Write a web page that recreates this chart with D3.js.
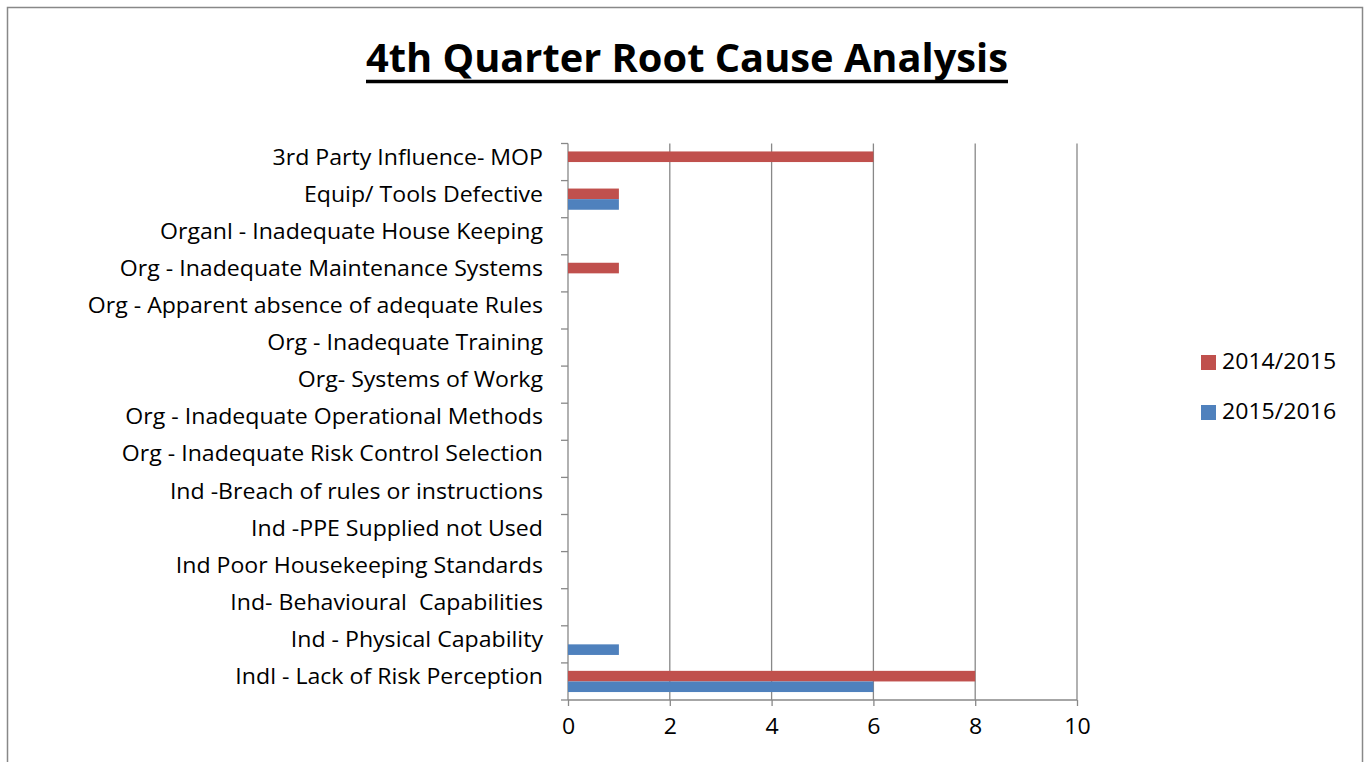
<!DOCTYPE html>
<html>
<head>
<meta charset="utf-8">
<script src="https://cdn.jsdelivr.net/npm/d3@7/dist/d3.min.js"></script>
<style>
  html, body { margin: 0; padding: 0; background: #fff; }
  svg { display: block; }
  text { font-family: "Open Sans", "Noto Sans", sans-serif; fill: #000; white-space: pre; }
</style>
</head>
<body>
<svg id="chart" width="1368" height="762"></svg>
<script>
// ---- data ----
const categories = [
  "3rd Party Influence- MOP",
  "Equip/ Tools Defective",
  "Organl - Inadequate House Keeping",
  "Org - Inadequate Maintenance Systems",
  "Org - Apparent absence of adequate Rules",
  "Org - Inadequate Training",
  "Org- Systems of Workg",
  "Org - Inadequate Operational Methods",
  "Org - Inadequate Risk Control Selection",
  "Ind -Breach of rules or instructions",
  "Ind -PPE Supplied not Used",
  "Ind Poor Housekeeping Standards",
  "Ind- Behavioural  Capabilities",
  "Ind - Physical Capability",
  "Indl - Lack of Risk Perception"
];
const seriesNames = ["2014/2015", "2015/2016"];
const values2014 = [6, 1, 0, 1, 0, 0, 0, 0, 0, 0, 0, 0, 0, 0, 8];
const values2015 = [0, 1, 0, 0, 0, 0, 0, 0, 0, 0, 0, 0, 0, 1, 6];
const xTicks = [0, 2, 4, 6, 8, 10];
const colors = ["#C0504D", "#4F81BD"];
const title = "4th Quarter Root Cause Analysis";

// ---- layout ----
const svg = d3.select("#chart");
const pLeft = 568, pRight = 1077, pTop = 143.5, pBottom = 700;
const gridColor = "#888888";
const stretch = 1.1; // widen body text to match reference glyph widths

function widen(sel) {
  sel.each(function () {
    const w = this.getComputedTextLength();
    d3.select(this).attr("textLength", w * stretch).attr("lengthAdjust", "spacingAndGlyphs");
  });
}

// chart border
svg.append("rect")
  .attr("x", 7.5).attr("y", 7.5)
  .attr("width", 1355).attr("height", 800)
  .attr("fill", "#fff").attr("stroke", gridColor).attr("stroke-width", 1.5);

const x = d3.scaleLinear().domain([0, 10]).range([pLeft, pRight]);
const y = d3.scaleBand().domain(categories).range([pTop, pBottom]).padding(0);
const y1 = d3.scaleBand().domain(seriesNames).range([0, y.bandwidth()])
  .paddingInner(0).paddingOuter(0.75);

// title
svg.append("text")
  .attr("x", 687).attr("y", 72)
  .attr("text-anchor", "middle")
  .style("font-weight", "bold")
  .style("font-size", "39px")
  .attr("textLength", 642)
  .attr("lengthAdjust", "spacingAndGlyphs")
  .text(title);
svg.append("line")
  .attr("x1", 366).attr("x2", 1008)
  .attr("y1", 81.5).attr("y2", 81.5)
  .attr("stroke", "#000").attr("stroke-width", 3.5);

// gridlines
svg.append("g").selectAll("line.grid")
  .data(xTicks.filter(d => d > 0))
  .join("line")
  .attr("class", "grid")
  .attr("x1", d => x(d)).attr("x2", d => x(d))
  .attr("y1", pTop).attr("y2", pBottom)
  .attr("stroke", gridColor).attr("stroke-width", 1.3);

// x axis
const xAxis = d3.axisBottom(x).tickValues(xTicks).tickSize(6).tickPadding(13);
const xg = svg.append("g").attr("transform", `translate(0,${pBottom})`).call(xAxis);
xg.select(".domain").attr("stroke", gridColor).attr("stroke-width", 1.3)
  .attr("d", `M${pLeft},0H${pRight}`);
xg.selectAll(".tick line").attr("stroke", gridColor).attr("stroke-width", 1.3);
xg.selectAll(".tick text")
  .style("font-family", "'Open Sans', sans-serif")
  .style("font-size", "21px").attr("fill", "#000")
  .call(widen);

// y axis line and ticks at band boundaries
svg.append("line")
  .attr("x1", pLeft).attr("x2", pLeft).attr("y1", pTop).attr("y2", pBottom)
  .attr("stroke", gridColor).attr("stroke-width", 1.3);
const boundaries = categories.map(c => y(c)).concat([pBottom]);
svg.selectAll("line.ytick").data(boundaries).join("line")
  .attr("class", "ytick")
  .attr("x1", pLeft - 7).attr("x2", pLeft)
  .attr("y1", d => d).attr("y2", d => d)
  .attr("stroke", gridColor).attr("stroke-width", 1.3);

// category labels
svg.selectAll("text.cat").data(categories).join("text")
  .attr("class", "cat")
  .attr("x", 543)
  .attr("y", d => y(d) + y.bandwidth() / 2 - 3)
  .attr("text-anchor", "end")
  .attr("dominant-baseline", "middle")
  .style("font-size", "21px")
  .text(d => d)
  .call(widen);

// bars
const allSeries = [values2014, values2015];
allSeries.forEach((vals, si) => {
  svg.selectAll(`rect.s${si}`)
    .data(vals.map((v, i) => ({ cat: categories[i], v })).filter(d => d.v > 0))
    .join("rect")
    .attr("class", `s${si}`)
    .attr("x", x(0))
    .attr("y", d => y(d.cat) + y1(seriesNames[si]))
    .attr("width", d => x(d.v) - x(0))
    .attr("height", y1.bandwidth())
    .attr("fill", colors[si]);
});

// legend
const legend = svg.append("g");
seriesNames.forEach((name, i) => {
  const ly = 355 + i * 50;
  legend.append("rect")
    .attr("x", 1201).attr("y", ly)
    .attr("width", 15).attr("height", 15)
    .attr("fill", colors[i]);
  legend.append("text")
    .attr("x", 1222).attr("y", ly + 14)
    .style("font-size", "21px")
    .text(name)
    .call(widen);
});
</script>
</body>
</html>
